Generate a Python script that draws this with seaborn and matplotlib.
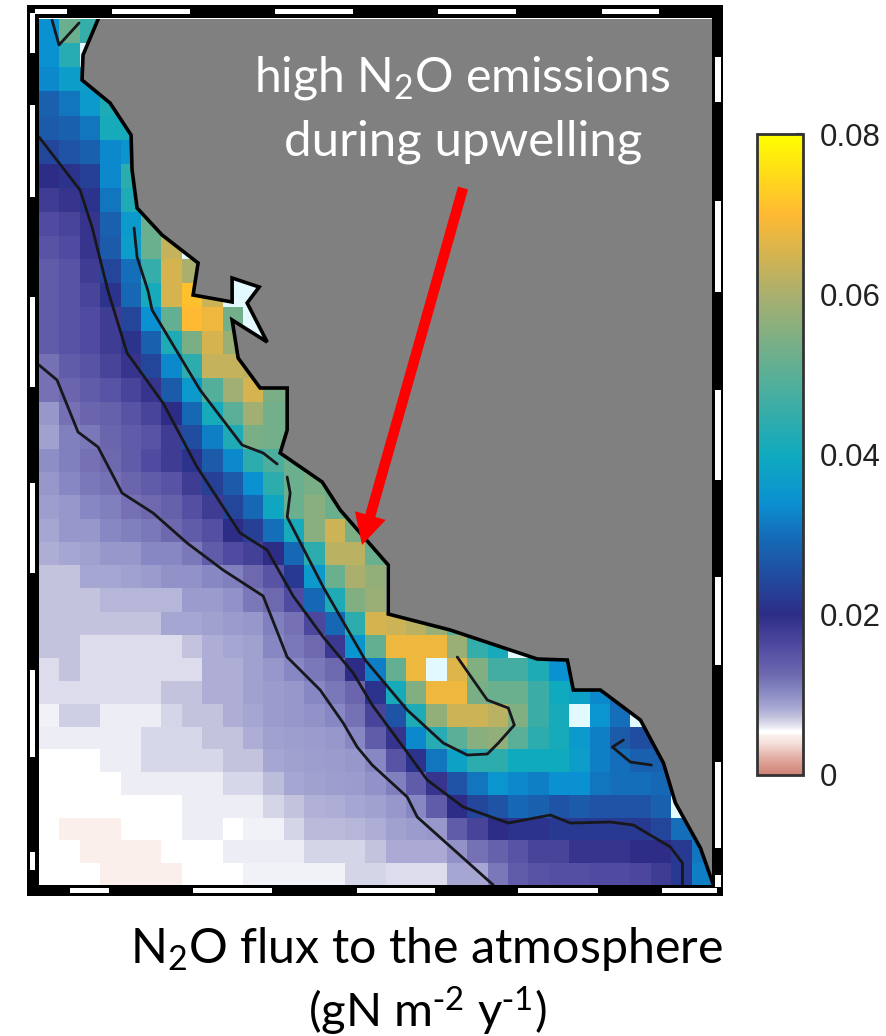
import numpy as np
import pandas as pd
import seaborn as sns
import matplotlib.pyplot as plt
from matplotlib.colors import LinearSegmentedColormap
from matplotlib.patches import Rectangle

# flux per grid cell, gN m-2 y-1 x 1000, north to south, each row runs from offshore to the coast
# 90 marks the pale cells that sit past the top of the colour scale
flux_rows = [
    [34, 52, 45],
    [34, 43, 90],
    [33, 37, 37],
    [28, 31, 36, 42],
    [27, 28, 31, 41, 41],
    [24, 26, 28, 33, 35],
    [20, 21, 23, 33, 44],
    [18, 19, 21, 31, 42, 50],
    [16, 17, 19, 28, 36, 52, 52],
    [15, 16, 19, 27, 37, 52, 63, 90],
    [14, 15, 18, 24, 30, 45, 65, 60, 60, 90, 90],
    [14, 15, 17, 21, 29, 41, 65, 71, 64, 90, 90],
    [14, 15, 16, 18, 24, 34, 51, 70, 68, 53, 90],
    [14, 15, 16, 18, 21, 28, 42, 54, 65, 58, 90, 90],
    [12, 14, 15, 17, 19, 24, 33, 44, 63, 63, 62],
    [12, 13, 14, 15, 17, 19, 27, 36, 49, 59, 65, 54, 54],
    [9.5, 12, 13, 13.5, 15, 17, 20, 29, 41, 50, 59, 53, 53],
    [8.8, 11, 11.5, 13, 14, 15, 18, 25, 32, 42, 54, 53, 53],
    [10, 11, 12, 12.5, 14, 16, 18, 21, 27, 33, 44, 48, 52, 50],
    [9.5, 10.5, 11.5, 12, 13, 14, 15, 18, 23, 27, 34, 44, 52, 54, 50],
    [9, 9.5, 10.5, 11, 12, 12.5, 13.5, 15.5, 18, 24, 29, 39, 52, 56, 52, 50],
    [8.5, 9.5, 9.5, 10.5, 11, 11.5, 12.5, 14, 15.5, 20, 23, 30, 41, 56, 64, 54, 50],
    [8.2, 8.5, 8.8, 9.5, 9.5, 10.5, 10.5, 11.5, 14, 16, 17.5, 20, 29, 44, 62, 62, 52, 52],
    [7.2, 7.2, 8.5, 8.5, 8.8, 9.2, 9.8, 9.8, 10.5, 11, 12.5, 15, 22, 36, 52, 60, 57, 90],
    [7.2, 7.2, 7.2, 7.8, 7.8, 7.8, 7.8, 9.2, 9.2, 9.8, 11.5, 12.5, 16, 29, 42, 55, 58, 90],
    [7.2, 7.2, 7.2, 7.2, 7.2, 7.2, 8.5, 8.5, 8.8, 9.2, 9.5, 11, 12, 16.5, 29, 44, 65, 64, 62, 58, 50],
    [7.2, 7.2, 6.4, 6.4, 6.4, 6.4, 6.4, 7.2, 8.2, 8.5, 8.8, 10.5, 11.5, 12.5, 18.5, 35, 51, 68, 68, 68, 58, 45, 41, 90, 40],
    [6.4, 7.2, 6.4, 6.4, 6.4, 6.4, 6.4, 6.4, 8.2, 8.2, 8.8, 9.5, 10.5, 11.5, 12.5, 20, 32, 51, 68, 90, 66, 55, 47, 47, 42, 34, 34],
    [6.4, 6.4, 6.4, 6.4, 6.4, 6.4, 7.2, 7.2, 8.2, 8.2, 8.8, 9.2, 9.5, 10.5, 11.5, 13, 21, 41, 55, 68, 68, 54, 52, 52, 46, 40, 38, 33, 30],
    [5.8, 6.8, 6.8, 5.9, 5.9, 5.9, 6.6, 7.2, 7.2, 8.2, 8.5, 9.2, 9.5, 9.8, 10.5, 12, 17, 26, 42, 57, 64, 64, 62, 55, 46, 41, 90, 35, 30, 90],
    [5.9, 5.9, 5.9, 5.9, 5.9, 6.5, 6.5, 6.5, 7.2, 7.2, 8.2, 8.8, 9, 9.2, 9.5, 10.5, 14, 19, 33, 43, 50, 56, 57, 50, 44, 41, 36, 32, 27, 25, 26],
    [5.4, 5.4, 5.4, 5.9, 5.9, 6.5, 6.5, 6.5, 6.5, 7.2, 7.2, 8.5, 8.8, 9, 9.2, 9.5, 10.5, 15, 21, 31, 38, 44, 44, 40, 40, 40, 37, 32, 30, 28, 28],
    [5.4, 5.4, 5.4, 5.4, 5.9, 5.9, 5.9, 5.9, 5.9, 6.5, 6.5, 7.5, 8.5, 8.8, 9, 9.2, 9.8, 11, 14, 19, 26, 31, 35, 33, 32, 34, 34, 31, 30, 30, 29, 28],
    [5.4, 5.4, 5.4, 5.4, 5.4, 5.4, 5.4, 5.9, 5.9, 5.9, 5.9, 6.6, 7.2, 8, 8.2, 8.5, 8.8, 9.5, 10.5, 14, 20, 24, 26, 29, 28, 26, 27, 26, 26, 26, 28, 90],
    [5.4, 4.9, 4.9, 4.9, 5.4, 5.4, 5.4, 5.9, 5.9, 5.4, 5.8, 5.8, 6.6, 7.6, 7.6, 7.8, 8.2, 8.8, 9.2, 9.5, 14, 17, 20, 21, 21, 22, 22, 22, 22, 22, 24, 30, 30],
    [5.4, 5.4, 4.9, 4.9, 4.9, 4.9, 5.4, 5.4, 5.4, 5.9, 5.9, 5.9, 5.9, 6.6, 6.6, 6.6, 7.2, 8.3, 8.3, 8.3, 9.8, 12, 13.5, 15, 17, 17, 19, 19, 19, 20, 20, 22, 31],
    [5.4, 5.4, 5.4, 4.9, 4.9, 4.9, 4.9, 5.4, 5.4, 5.4, 5.8, 5.8, 5.8, 5.8, 5.8, 6.6, 6.6, 6.4, 6.4, 6.4, 8.5, 8.5, 11.5, 14, 15, 15.5, 15.5, 16, 16, 16.5, 18, 22, 32],
]

# colour scale anchors
scale_values = [0, 2, 4, 4.9, 5.2, 5.5, 5.9, 6.4, 7.2, 8.5, 10.5, 12.5, 16, 20, 24, 30, 34, 40, 50, 60, 70, 80]
scale_colors = ["#d08276", "#e1aaa0", "#f5e1dc", "#faf0eb", "#ffffff", "#ffffff", "#ebebf5", "#dadaeb", "#c3c3de",
                "#a5a5d2", "#8787c3", "#6e69af", "#504ba0", "#2d2d87", "#23469b", "#146eb9", "#0a91d2",
                "#0faabe", "#5aaf96", "#aaaf6e", "#ffb932", "#ffff00"]
cbar_ticks = [0, 0.02, 0.04, 0.06, 0.08]
cbar_labels = ["0", "0.02", "0.04", "0.06", "0.08"]

# outlines, in figure pixels
coast_x = [99, 83, 82, 110, 131, 132, 137, 162, 198, 193, 232, 232, 259, 247, 267, 232, 238, 260, 287, 287,
           280, 322, 340, 388, 388, 450, 537, 567, 573, 600, 640, 663, 675, 700, 713]
coast_y = [17, 55, 80, 103, 135, 170, 208, 235, 263, 295, 302, 278, 287, 303, 342, 320, 358, 388, 388, 430,
           453, 482, 510, 565, 614, 630, 659, 660, 690, 690, 720, 763, 803, 848, 885]
land_edge_x = [730, 730, 99]
land_edge_y = [885, 5, 5]

contours = [
    ([52, 59, 79], [20, 45, 23]),
    ([39, 80, 92, 108, 127, 163, 197, 240, 267, 293, 323, 353, 372, 403, 427, 463, 508, 550, 570, 610, 633, 670, 682, 682],
     [137, 190, 227, 291, 353, 403, 467, 533, 550, 596, 637, 673, 705, 747, 780, 807, 823, 815, 823, 822, 825, 847, 863, 885]),
    ([39, 57, 78, 98, 122, 153, 187, 223, 263, 287, 320, 343, 357, 372, 407, 417, 493],
     [365, 380, 432, 447, 493, 513, 543, 570, 596, 657, 690, 723, 747, 765, 797, 817, 885]),
    ([134, 137, 148, 152, 200, 242, 263, 277], [228, 257, 291, 310, 390, 445, 453, 464]),
    ([287, 290, 287, 323, 365, 407, 443, 467, 487, 498, 514, 508, 487, 473, 457],
     [477, 493, 517, 587, 660, 710, 743, 755, 754, 743, 725, 708, 700, 680, 657]),
    ([623, 612, 630, 651], [740, 747, 762, 765]),
]

# white dashes in the map frame, as (start, end) along each side
top_dashes = [(35, 67), (112, 190), (275, 353), (438, 516), (602, 659)]
bottom_dashes = [(70, 109), (193, 272), (357, 435), (518, 598), (662, 717)]
left_dashes = [(13, 53), (105, 197), (297, 387), (483, 573), (670, 757), (852, 870)]
right_dashes = [(57, 102), (201, 292), (390, 480), (577, 665), (762, 848), (875, 887)]


def pixel_to_col(x):
    return (np.asarray(x, dtype=float) - 39) / 20.38


def row_to_pixel(j):
    j = np.asarray(j, dtype=float)
    return 18.71 + 24.31 * j - 0.0239 * j ** 2


def pixel_to_row(y):
    y = np.asarray(y, dtype=float)
    root = np.sqrt(np.clip(24.31 ** 2 - 4 * 0.0239 * (y - 18.71), 0, None))
    return (24.31 - root) / (2 * 0.0239)


sns.set_theme(style="white")
plt.rcParams["font.family"] = ["Lato", "DejaVu Sans"]
plt.rcParams["mathtext.default"] = "regular"

W, H = 887, 1036
fig = plt.figure(figsize=(W / 100, H / 100), dpi=100)
ax = fig.add_axes([39 / W, 1 - 885.5 / H, (712 - 39) / W, (885.5 - 18.7) / H])
cax = fig.add_axes([757 / W, 1 - 775 / H, 46 / W, (775 - 134) / H])

n_cols = max(len(r) for r in flux_rows)
flux = pd.DataFrame([r + [np.nan] * (n_cols - len(r)) for r in flux_rows]) / 1000

stops = [v / 80 for v in scale_values]
cmap = LinearSegmentedColormap.from_list("flux", list(zip(stops, scale_colors)), N=1024)
cmap.set_over("#e2f9ff")

sns.heatmap(flux, ax=ax, cbar_ax=cax, cmap=cmap, vmin=0, vmax=0.08,
            xticklabels=False, yticklabels=False, cbar_kws={"ticks": cbar_ticks})
ax.set_facecolor("#808080")
ax.set_yscale("function", functions=(row_to_pixel, pixel_to_row))
ax.set_ylim(37, 0)
ax.set_xlim(0, 33)
ax.set_xticks([])
ax.set_yticks([])
ax.minorticks_off()

land_x = pixel_to_col(coast_x + land_edge_x)
land_y = pixel_to_row(coast_y + land_edge_y)
ax.fill(land_x, land_y, color="#808080", lw=0, zorder=3)
ax.plot(pixel_to_col(coast_x), pixel_to_row(coast_y), color="black", lw=2.6, zorder=4, solid_joinstyle="miter")
for cx, cy in contours:
    ax.plot(pixel_to_col(cx), pixel_to_row(cy), color="#17171c", lw=2, zorder=4)

cbar = ax.collections[0].colorbar
cbar.outline.set_edgecolor("#333333")
cbar.outline.set_linewidth(2)
cbar.ax.tick_params(direction="in", right=True, length=5, width=1.5, color="#333333", pad=12)
cbar.set_ticklabels(cbar_labels, fontsize=22.5, family="Liberation Sans", color="#222222")

# overlay in figure pixels for the frame and the annotations
ov = fig.add_axes([0, 0, 1, 1], facecolor="none")
ov.set_xlim(0, W)
ov.set_ylim(H, 0)
ov.axis("off")

for x, y, w, h in [(27, 5, 696, 13), (27, 885, 696, 11), (27, 5, 12, 891), (712, 5, 11, 891)]:
    ov.add_patch(Rectangle((x, y), w, h, color="black", lw=0))
for a, b in top_dashes:
    ov.add_patch(Rectangle((a, 9), b - a, 5, color="white", lw=0))
for a, b in bottom_dashes:
    ov.add_patch(Rectangle((a, 888), b - a, 5, color="white", lw=0))
for a, b in left_dashes:
    ov.add_patch(Rectangle((30, a), 5, b - a, color="white", lw=0))
for a, b in right_dashes:
    ov.add_patch(Rectangle((715, a), 6, b - a, color="white", lw=0))

ov.annotate("", xy=(362, 545), xytext=(463, 188),
            arrowprops=dict(facecolor="#ff0000", edgecolor="none", width=7.5, headwidth=23, headlength=22, shrink=0))

ov.text(462, 92, "high N$_2$O emissions", color="white", fontsize=34.7, ha="center", va="baseline")
ov.text(463, 155, "during upwelling", color="white", fontsize=35.5, ha="center", va="baseline")
ov.text(427, 963, "N$_2$O flux to the atmosphere", color="black", fontsize=34.8, ha="center", va="baseline")
ov.text(427, 1027, "(gN m$^{\\text{-}2}$ y$^{\\text{-}1}$)", color="black", fontsize=34, ha="center", va="baseline")

fig.savefig("out.png", dpi=100)
